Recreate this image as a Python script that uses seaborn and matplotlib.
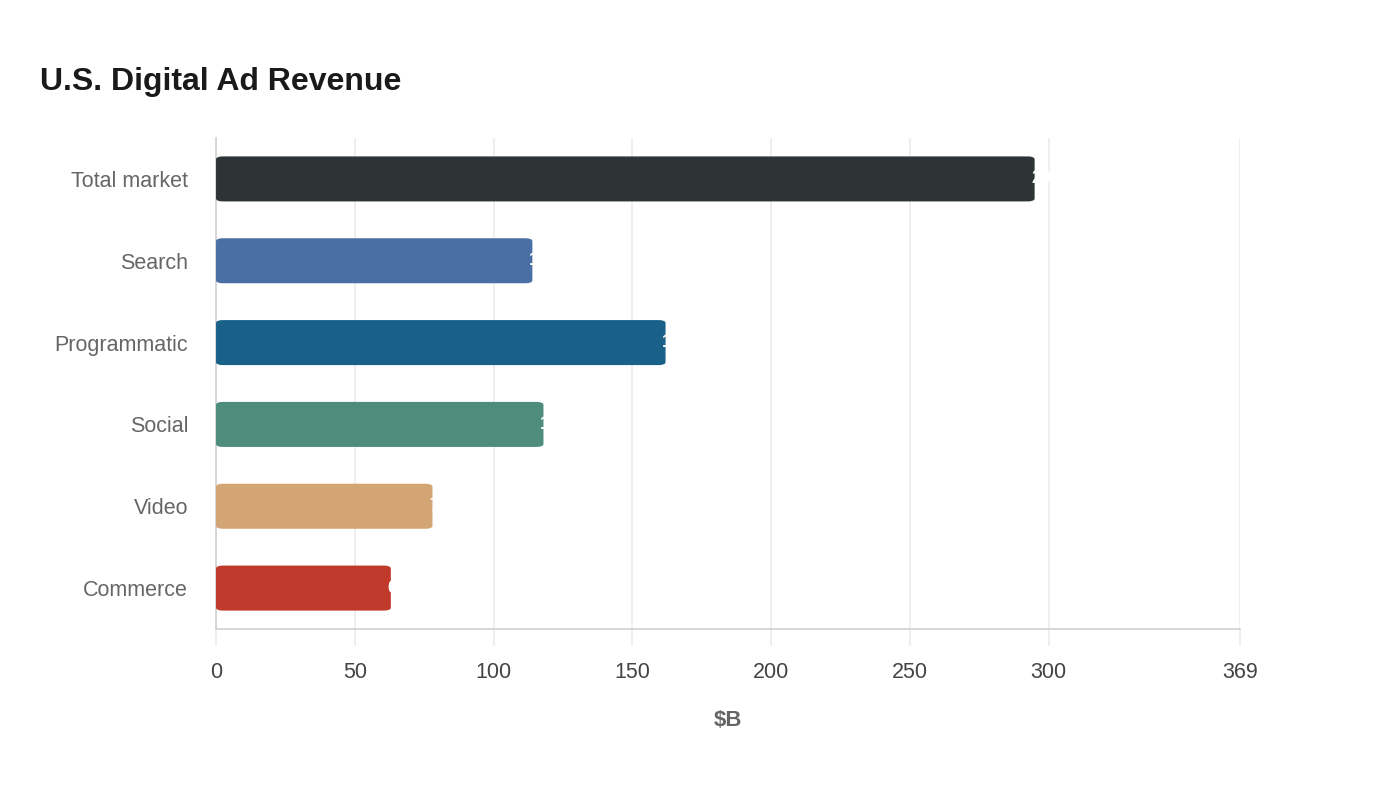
import matplotlib
matplotlib.use("Agg")
import matplotlib.pyplot as plt
from matplotlib.patches import FancyBboxPatch
import pandas as pd
import seaborn as sns

# Data
categories = ["Total market", "Search", "Programmatic", "Social", "Video", "Commerce"]
revenue = [295, 114, 162, 118, 78, 63]
bar_colors = ["#2d3436", "#4a6fa5", "#1a6189", "#4e8d7c", "#d4a574", "#c0392b"]
x_ticks = [0, 50, 100, 150, 200, 250, 300, 369]

df = pd.DataFrame({"category": categories, "revenue": revenue})

sns.set_theme(style="white")
plt.rcParams["font.family"] = ["Liberation Sans", "DejaVu Sans"]

fig = plt.figure(figsize=(14, 8), dpi=100)
ax = fig.add_axes([0.1543, 0.21375, 0.7314, 0.61375])

sns.barplot(data=df, x="revenue", y="category", hue="category",
            palette=bar_colors, saturation=1, width=0.55, legend=False,
            ax=ax, zorder=3)

# swap plain rectangles for rounded ones
for patch in list(ax.patches):
    x0, y0 = patch.get_x(), patch.get_y()
    w, h = patch.get_width(), patch.get_height()
    fc = patch.get_facecolor()
    patch.remove()
    rounded = FancyBboxPatch((x0, y0), w, h,
                             boxstyle="round,pad=0,rounding_size=2.5",
                             mutation_aspect=0.0145, facecolor=fc,
                             edgecolor="none", zorder=3)
    ax.add_patch(rounded)

# value labels (white, sit at the bar ends)
for i, v in enumerate(revenue):
    ax.text(v - 1.2, i, str(v), color="white", fontsize=13, fontweight="bold",
            ha="left", va="center", zorder=4)

ax.set_xlim(0, 369)
ax.set_ylim(5.5, -0.5)
ax.set_xticks(x_ticks)
ax.set_xticklabels([str(t) for t in x_ticks])
ax.grid(axis="x", color="#ebebeb", linewidth=1.2, zorder=0)
ax.grid(axis="y", visible=False)
ax.tick_params(axis="x", length=12, width=1.2, color="#ebebeb", pad=11.5,
               labelsize=15.5, labelcolor="#444444", bottom=True)
ax.tick_params(axis="y", length=0, pad=20, labelsize=15.5, labelcolor="#666666")

for side in ["top", "right"]:
    ax.spines[side].set_visible(False)
for side in ["left", "bottom"]:
    ax.spines[side].set_color("#d0d0d0")
    ax.spines[side].set_linewidth(1.2)

ax.set_ylabel("")
ax.set_xlabel("$B", fontsize=16, fontweight="bold", color="#666666", labelpad=19.5)

fig.text(0.0286, 0.897, "U.S. Digital Ad Revenue", fontsize=23, fontweight="bold",
         color="#1a1a1a", ha="left", va="center")

fig.savefig("out.png", dpi=100, facecolor="white")
